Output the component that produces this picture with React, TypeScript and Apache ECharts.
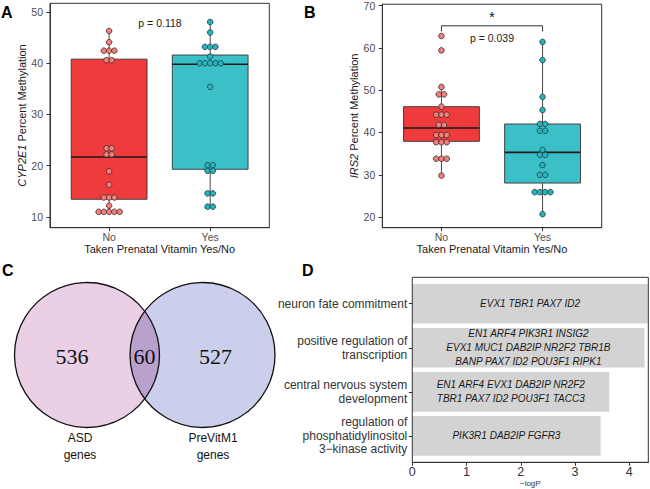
import React, { useEffect, useRef } from "react";
import * as echarts from "echarts";

// ---------- data ----------
const groups = ["No", "Yes"];
const xTitle = "Taken Prenatal Vitamin Yes/No";

const cyp2e1No = [46.3, 44.1, 42.45, 42.45, 42.45, 40.6, 40.6, 23.4, 23.4, 22.2, 22.2, 18.9, 16.3, 13.8, 13.8, 13.8, 12.2, 11.0, 11.0, 11.0, 11.0, 11.0];
const cyp2e1Yes = [48.05, 46.0, 43.2, 43.2, 43.2, 41.3, 40.0, 40.0, 40.0, 40.0, 40.0, 35.4, 20.1, 20.1, 19.0, 19.0, 14.6, 14.6, 12.0, 12.0];
// [min, Q1, median, Q3, max]
const cyp2e1Box = [
  [11.0, 13.45, 21.7, 40.8, 46.3],
  [12.0, 19.3, 39.8, 41.6, 48.05],
];
const cyp2e1Ticks = [10, 20, 30, 40, 50];
const cyp2e1P = "p = 0.118";

const irs2No = [62.8, 59.4, 50.75, 49.0, 49.0, 46.1, 44.2, 44.2, 44.2, 41.8, 41.8, 39.4, 39.4, 39.4, 37.7, 37.7, 37.7, 33.8, 33.8, 33.8, 29.8];
const irs2Yes = [61.4, 57.1, 48.4, 45.3, 42.0, 42.0, 40.4, 40.4, 35.9, 34.7, 34.7, 32.3, 30.0, 30.0, 25.9, 25.9, 25.9, 25.9, 20.7];
const irs2Box = [
  [29.8, 37.9, 41.05, 46.1, 50.75],
  [20.7, 28.05, 35.3, 42.0, 61.4],
];
const irs2Ticks = [20, 30, 40, 50, 60, 70];
const irs2P = "p = 0.039";
const irs2Bracket = [63.9, 65.2];

const vennSets = ["ASD\ngenes", "PreVitM1\ngenes"];
const vennCounts = [536, 60, 527];

const goTerms = [
  "neuron fate commitment",
  "positive regulation of\ntranscription",
  "central nervous system\ndevelopment",
  "regulation of\nphosphatidylinositol\n3\u2212kinase activity",
];
const goLogP = [4.34, 4.28, 3.63, 3.47];
const goGenes = [
  "EVX1 TBR1 PAX7 ID2",
  "EN1 ARF4 PIK3R1 INSIG2\nEVX1 MUC1 DAB2IP NR2F2 TBR1B\nBANP PAX7 ID2 POU3F1 RIPK1",
  "EN1 ARF4 EVX1 DAB2IP NR2F2\nTBR1 PAX7 ID2 POU3F1 TACC3",
  "PIK3R1 DAB2IP FGFR3",
];
const goTicks = [0, 1, 2, 3, 4];

// ---------- styles ----------
const FONT = "Liberation Sans, Arial, Helvetica, sans-serif";
const boxFill = ["#EF3B3C", "#3CC0C8"];
const dotFill = ["#F17F7B", "#25B4BD"];
const tickColor = "#4d4d4d";
const titleColor = "#1a1a1a";

function dotPoints(values: number[], xPos: number, step = 0.052) {
  const counts = new Map<number, number>();
  values.forEach((v) => counts.set(v, (counts.get(v) || 0) + 1));
  const seen = new Map<number, number>();
  return values.map((v) => {
    const k = counts.get(v)!;
    const i = seen.get(v) || 0;
    seen.set(v, i + 1);
    return [xPos + (i - (k - 1) / 2) * step, v];
  });
}

function renderBox(params: any, api: any) {
  const x = api.value(0);
  const mn = api.value(1), q1 = api.value(2), md = api.value(3), q3 = api.value(4), mx = api.value(5);
  const idx = params.dataIndex;
  const halfW = api.size([0.75, 0])[0] / 2;
  const pMin = api.coord([x, mn]);
  const pQ1 = api.coord([x, q1]);
  const pMd = api.coord([x, md]);
  const pQ3 = api.coord([x, q3]);
  const pMax = api.coord([x, mx]);
  const wStyle = { stroke: "#4a4a4a", lineWidth: 1 };
  return {
    type: "group",
    children: [
      { type: "line", shape: { x1: pMin[0], y1: pMin[1], x2: pQ1[0], y2: pQ1[1] }, style: wStyle },
      { type: "line", shape: { x1: pQ3[0], y1: pQ3[1], x2: pMax[0], y2: pMax[1] }, style: wStyle },
      {
        type: "rect",
        shape: { x: pQ1[0] - halfW, y: pQ3[1], width: halfW * 2, height: pQ1[1] - pQ3[1] },
        style: { fill: boxFill[idx], stroke: "#333", lineWidth: 0.9 },
      },
      {
        type: "line",
        shape: { x1: pMd[0] - halfW, y1: pMd[1], x2: pMd[0] + halfW, y2: pMd[1] },
        style: { stroke: "#1a1a1a", lineWidth: 1.6 },
      },
    ],
  };
}

function boxAxes(gridIndex: number, yMin: number, yMax: number, ticks: number[], yName: string) {
  const xAxis = {
    gridIndex,
    type: "value",
    min: 0.415,
    max: 2.585,
    splitLine: { show: false },
    axisLine: { show: true, lineStyle: { color: "#333", width: 1 } },
    axisTick: { show: true, customValues: [1, 2], length: 3.5, lineStyle: { color: "#333" } },
    axisLabel: {
      customValues: [1, 2],
      formatter: (v: number) => groups[Math.round(v) - 1] || "",
      fontSize: 10.5,
      color: tickColor,
      fontFamily: FONT,
      margin: 4,
    },
    name: xTitle,
    nameLocation: "middle",
    nameGap: 16,
    nameTextStyle: { fontSize: 11, color: titleColor, fontFamily: FONT },
  };
  const yAxis = {
    gridIndex,
    type: "value",
    min: yMin,
    max: yMax,
    splitLine: { show: false },
    axisLine: { show: true, lineStyle: { color: "#333", width: 1 } },
    axisTick: { show: true, customValues: ticks, length: 3.5, lineStyle: { color: "#333" } },
    axisLabel: { customValues: ticks, fontSize: 10.5, color: tickColor, fontFamily: FONT, margin: 7 },
    name: yName,
    nameLocation: "middle",
    nameGap: 21,
    nameTextStyle: {
      fontSize: 11,
      color: titleColor,
      fontFamily: FONT,
      rich: { i: { fontStyle: "italic", fontSize: 11, color: titleColor, fontFamily: FONT } },
    },
  };
  return { xAxis, yAxis };
}

// Venn geometry (layout)
const vR = 72.5;
const vC1 = [87, 355];
const vC2 = [202.5, 355];
function lensPoints() {
  const d = vC2[0] - vC1[0];
  const a = Math.acos(d / 2 / vR);
  const pts: number[][] = [];
  const N = 40;
  for (let i = 0; i <= N; i++) {
    const t = -a + (2 * a * i) / N;
    pts.push([vC1[0] + vR * Math.cos(t), vC1[1] + vR * Math.sin(t)]);
  }
  for (let i = 0; i <= N; i++) {
    const t = Math.PI - a + (2 * a * i) / N;
    pts.push([vC2[0] + vR * Math.cos(t), vC2[1] + vR * Math.sin(t)]);
  }
  return pts;
}

// panel D layout: frame grid vs. data grid (ggplot discrete expansion of 0.6 units)
const dLeft = 412.3, dTop = 277.3, dWidth = 236, dHeight = 185;
const dUnit = dHeight / (goTerms.length - 1 + 1.2);
const dDataTop = dTop + 0.1 * dUnit;
const dDataHeight = dUnit * goTerms.length;

export default function App() {
  const ref = useRef<HTMLDivElement>(null);
  useEffect(() => {
    const chart = echarts.init(ref.current!, null, { renderer: "svg" });
    const a = boxAxes(0, 7.9, 51.7, cyp2e1Ticks, "{i|CYP2E1} Percent Methylation");
    const b = boxAxes(1, 17.5, 70.3, irs2Ticks, "{i|IRS2} Percent Methylation");
    b.yAxis.nameGap = 20;

    const letter = (t: string, x: number, y: number) => ({
      type: "text",
      x,
      y,
      style: { text: t, fontSize: 16, fontWeight: "bold", fill: "#000", fontFamily: FONT, textVerticalAlign: "middle" },
    });

    const option: any = {
      animation: false,
      backgroundColor: "#ffffff",
      grid: [
        { left: 50, top: 3.3, width: 219.3, height: 224.4, show: true, borderColor: "#333", borderWidth: 1, backgroundColor: "transparent" },
        { left: 382.3, top: 2.7, width: 219.4, height: 225, show: true, borderColor: "#333", borderWidth: 1, backgroundColor: "transparent" },
        // D frame
        { left: dLeft, top: dTop, width: dWidth, height: dHeight, show: true, borderColor: "#333", borderWidth: 1, backgroundColor: "transparent", z: 5 },
        // D data
        { left: dLeft, top: dDataTop, width: dWidth, height: dDataHeight, show: false },
      ],
      xAxis: [
        a.xAxis,
        b.xAxis,
        {
          gridIndex: 2,
          type: "value",
          min: 0,
          max: 4.35,
          splitLine: { show: false },
          axisLine: { show: true, lineStyle: { color: "#333" } },
          axisTick: { show: true, customValues: goTicks, length: 3.5, lineStyle: { color: "#333" } },
          axisLabel: { customValues: goTicks, fontSize: 12.5, color: "#333", fontFamily: FONT, margin: 3 },
          name: "\u2212logP",
          nameLocation: "middle",
          nameGap: 16,
          nameTextStyle: { fontSize: 8, color: "#333", fontFamily: FONT },
        },
        {
          gridIndex: 3,
          type: "value",
          min: 0,
          max: 4.35,
          show: false,
        },
      ],
      yAxis: [
        a.yAxis,
        b.yAxis,
        { gridIndex: 2, type: "value", min: 0, max: 1, show: false },
        {
          gridIndex: 3,
          type: "category",
          data: goTerms,
          inverse: true,
          axisLine: { show: false },
          axisTick: { show: true, alignWithLabel: true, length: 3.5, lineStyle: { color: "#333" } },
          axisLabel: { fontSize: 12, color: "#333", fontFamily: FONT, lineHeight: 13.5, margin: 5 },
          splitLine: { show: false },
        },
      ],
      series: [
        {
          type: "custom",
          xAxisIndex: 0,
          yAxisIndex: 0,
          renderItem: renderBox,
          encode: { x: 0, y: [1, 2, 3, 4, 5] },
          data: cyp2e1Box.map((bx, i) => [i + 1, ...bx]),
          z: 2,
        },
        {
          type: "scatter",
          xAxisIndex: 0,
          yAxisIndex: 0,
          symbolSize: 5.6,
          itemStyle: { color: dotFill[0], borderColor: "#3a2a2a", borderWidth: 0.8, opacity: 1 },
          data: dotPoints(cyp2e1No, 1),
          z: 3,
        },
        {
          type: "scatter",
          xAxisIndex: 0,
          yAxisIndex: 0,
          symbolSize: 5.6,
          itemStyle: { color: dotFill[1], borderColor: "#1f3a3c", borderWidth: 0.8, opacity: 1 },
          data: dotPoints(cyp2e1Yes, 2),
          z: 3,
        },
        {
          type: "custom",
          xAxisIndex: 1,
          yAxisIndex: 1,
          renderItem: renderBox,
          encode: { x: 0, y: [1, 2, 3, 4, 5] },
          data: irs2Box.map((bx, i) => [i + 1, ...bx]),
          z: 2,
        },
        {
          type: "scatter",
          xAxisIndex: 1,
          yAxisIndex: 1,
          symbolSize: 5.6,
          itemStyle: { color: dotFill[0], borderColor: "#3a2a2a", borderWidth: 0.8, opacity: 1 },
          data: dotPoints(irs2No, 1),
          z: 3,
        },
        {
          type: "scatter",
          xAxisIndex: 1,
          yAxisIndex: 1,
          symbolSize: 5.6,
          itemStyle: { color: dotFill[1], borderColor: "#1f3a3c", borderWidth: 0.8, opacity: 1 },
          data: dotPoints(irs2Yes, 2),
          z: 3,
        },
        {
          type: "line",
          xAxisIndex: 1,
          yAxisIndex: 1,
          showSymbol: false,
          symbol: "none",
          lineStyle: { color: "#333", width: 1 },
          data: [
            [1, irs2Bracket[0]],
            [1, irs2Bracket[1]],
            [2, irs2Bracket[1]],
            [2, irs2Bracket[0]],
          ],
          z: 2,
        },
        {
          type: "bar",
          xAxisIndex: 3,
          yAxisIndex: 3,
          data: goLogP,
          barCategoryGap: "10%",
          itemStyle: { color: "#D3D3D3" },
          label: {
            show: true,
            position: "inside",
            formatter: (p: any) => goGenes[p.dataIndex],
            fontStyle: "italic",
            fontSize: 10,
            lineHeight: 14,
            color: "#1a1a1a",
            fontFamily: FONT,
          },
        },
      ],
      graphic: [
        letter("A", 1, 12),
        letter("B", 304, 12),
        letter("C", 2, 270),
        letter("D", 302, 270),
        {
          type: "text",
          x: 160,
          y: 23,
          style: { text: cyp2e1P, fontSize: 10.5, fill: "#222", fontFamily: FONT, textAlign: "center", textVerticalAlign: "middle" },
        },
        {
          type: "text",
          x: 492,
          y: 37.5,
          style: { text: irs2P, fontSize: 10.5, fill: "#222", fontFamily: FONT, textAlign: "center", textVerticalAlign: "middle" },
        },
        {
          type: "text",
          x: 492,
          y: 17,
          style: { text: "*", fontSize: 14, fill: "#111", fontFamily: FONT, textAlign: "center", textVerticalAlign: "middle" },
        },
        // Venn
        { type: "circle", shape: { cx: vC1[0], cy: vC1[1], r: vR }, style: { fill: "#EACFE5", stroke: "none" } },
        { type: "circle", shape: { cx: vC2[0], cy: vC2[1], r: vR }, style: { fill: "#CCCFEB", stroke: "none" } },
        { type: "polygon", shape: { points: lensPoints() }, style: { fill: "#B9A0CD", stroke: "none" } },
        { type: "circle", shape: { cx: vC1[0], cy: vC1[1], r: vR }, style: { fill: "none", stroke: "#111", lineWidth: 1.3 } },
        { type: "circle", shape: { cx: vC2[0], cy: vC2[1], r: vR }, style: { fill: "none", stroke: "#111", lineWidth: 1.3 } },
        ...[72, 144.5, 215.5].map((x, i) => ({
          type: "text",
          x,
          y: 356,
          style: {
            text: String(vennCounts[i]),
            fontSize: 22,
            fill: "#111",
            fontFamily: "Liberation Serif, Times New Roman, serif",
            textAlign: "center",
            textVerticalAlign: "middle",
          },
        })),
        ...[80, 213].map((x, i) => ({
          type: "text",
          x,
          y: 446,
          style: {
            text: vennSets[i],
            fontSize: 12,
            lineHeight: 17,
            fill: "#111",
            fontFamily: FONT,
            textAlign: "center",
            textVerticalAlign: "middle",
          },
        })),
      ],
    };
    chart.setOption(option);
    return () => chart.dispose();
  }, []);
  return <div ref={ref} style={{ position: "absolute", left: 0, top: 0, width: 650, height: 489, background: "#fff" }} />;
}
